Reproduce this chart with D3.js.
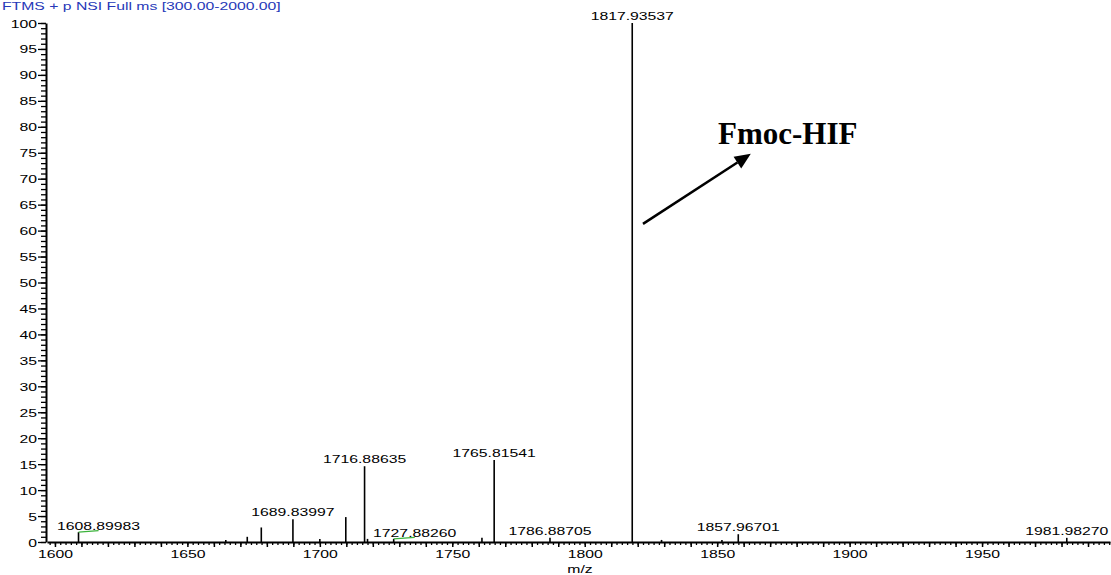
<!DOCTYPE html>
<html>
<head>
<meta charset="utf-8">
<script src="https://cdn.jsdelivr.net/npm/d3@7"></script>
<style>
  body { margin: 0; background: #fff; }
  svg { display: block; }
  text { font-family: "Liberation Sans", Arial, sans-serif; }
</style>
</head>
<body>
<svg width="1111" height="575"></svg>
<script>
// spectrum data (m/z, relative abundance)
var peakMz  = [1608.89983, 1664.5, 1672.6, 1677.9, 1689.83997, 1700.0, 1709.8, 1716.88635, 1718.0,
               1727.88260, 1761.2, 1765.81541, 1786.88705, 1817.93537, 1829.0, 1851.8, 1857.96701, 1981.98270];
var peakInt = [1.9, 0.4, 1.0, 2.8, 4.4, 0.6, 4.8, 14.6, 0.6,
               0.6, 0.8, 15.8, 0.8, 100, 0.4, 0.4, 1.5, 0.8];
var labelled = ["1608.89983", "1689.83997", "1716.88635", "1727.88260", "1765.81541",
                "1786.88705", "1817.93537", "1857.96701", "1981.98270"];
var yTicks = d3.range(0, 101, 5);
var xTicks = [1600, 1650, 1700, 1750, 1800, 1850, 1900, 1950];

var title = "FTMS + p NSI Full ms [300.00-2000.00]";
var annotation = "Fmoc-HIF";
// arrow in data coordinates [m/z, abundance]
var arrowFrom = [1822.0, 61.3], arrowTo = [1862.7, 74.8];
var annotationAt = [1850.3, 76.7];

// labels pushed sideways by the instrument software (px) -> drawn with a green leader
var labelShift = { "1608.89983": 20, "1727.88260": 21 };

var svg = d3.select("svg");
var FS = 11.5, SX = 1.37; // the original screenshot text is stretched horizontally

var x = d3.scaleLinear().domain([1597, 1998.3]).range([47, 1110]);
var y = d3.scaleLinear().domain([0, 100]).range([542, 23]);

function stretch(sel, px, py) {
    sel.attr("x", 0).attr("y", 0).attr("dy", null)
       .attr("transform", "translate(" + px + "," + py + ") scale(" + SX + ",1)");
}

// title
svg.append("text")
    .attr("font-size", FS)
    .attr("fill", "#2638b8")
    .attr("transform", "translate(2,10) scale(" + SX + ",1)")
    .text(title);

// y axis minor + major
svg.append("g")
    .attr("transform", "translate(46,0)")
    .call(d3.axisLeft(y).tickValues(d3.range(0, 101, 1)).tickSize(5).tickFormat(""))
    .call(function (g) { g.select(".domain").remove(); })
    .selectAll("line").attr("stroke-width", 1.3);

var yAxis = svg.append("g")
    .attr("transform", "translate(46,0)")
    .call(d3.axisLeft(y).tickValues(yTicks).tickSize(8).tickSizeOuter(0).tickFormat(d3.format("d")));
yAxis.select(".domain").attr("stroke-width", 2);
yAxis.selectAll("line").attr("stroke-width", 1.3);
yAxis.selectAll("text")
    .attr("font-size", FS)
    .attr("font-family", null)
    .attr("text-anchor", "end")
    .each(function () { stretch(d3.select(this), -9, 4); });

// x axis minor + major
svg.append("g")
    .attr("transform", "translate(0,542)")
    .call(d3.axisBottom(x).tickValues(d3.range(1598, 1999, 2)).tickSize(3).tickFormat(""))
    .call(function (g) { g.select(".domain").remove(); })
    .selectAll("line").attr("stroke-width", 1.3);

svg.append("g")
    .attr("transform", "translate(0,542)")
    .call(d3.axisBottom(x).tickValues(d3.range(1600, 1999, 10)).tickSize(5).tickFormat(""))
    .call(function (g) { g.select(".domain").remove(); })
    .selectAll("line").attr("stroke-width", 1.5);

var xAxis = svg.append("g")
    .attr("transform", "translate(0,542)")
    .call(d3.axisBottom(x).tickValues(xTicks).tickSize(0).tickSizeOuter(0).tickFormat(d3.format("d")));
xAxis.select(".domain").attr("stroke-width", 2);
xAxis.selectAll("text")
    .attr("font-size", FS)
    .attr("font-family", null)
    .attr("text-anchor", "middle")
    .each(function () { stretch(d3.select(this), 0, 16); });

svg.append("text")
    .attr("font-size", FS)
    .attr("text-anchor", "middle")
    .attr("transform", "translate(580,573) scale(" + SX + ",1)")
    .text("m/z");

// peaks
var peaks = peakMz.map(function (m, i) { return { mz: m, ab: peakInt[i] }; });

svg.append("g").selectAll("line")
    .data(peaks)
    .enter().append("line")
    .attr("x1", function (d) { return x(d.mz); })
    .attr("x2", function (d) { return x(d.mz); })
    .attr("y1", y(0))
    .attr("y2", function (d) { return y(d.ab); })
    .attr("stroke", "#000")
    .attr("stroke-width", 1.6);

// peak labels
var lab = peaks.filter(function (d) { return labelled.indexOf(d.mz.toFixed(5)) >= 0; });
var lg = svg.append("g");
lab.forEach(function (d) {
    var key = d.mz.toFixed(5);
    var shift = labelShift[key] || 0;
    var px = x(d.mz), py = y(d.ab);
    var ly = py - 3;
    if (shift) {
        ly = py - 2;
        lg.append("line")
            .attr("x1", px).attr("y1", py)
            .attr("x2", px + shift).attr("y2", py - 1.5)
            .attr("stroke", "#3cb33c").attr("stroke-width", 1.2);
    }
    lg.append("text")
        .attr("font-size", FS)
        .attr("text-anchor", "middle")
        .attr("transform", "translate(" + (px + shift) + "," + ly + ") scale(" + SX + ",1)")
        .text(key);
});

// annotation arrow
var ax0 = x(arrowFrom[0]), ay0 = y(arrowFrom[1]);
var ax1 = x(arrowTo[0]), ay1 = y(arrowTo[1]);
var ang = Math.atan2(ay1 - ay0, ax1 - ax0);
var headLen = 16, headW = 7;
var bx = ax1 - headLen * Math.cos(ang), by = ay1 - headLen * Math.sin(ang);
svg.append("line")
    .attr("x1", ax0).attr("y1", ay0)
    .attr("x2", bx).attr("y2", by)
    .attr("stroke", "#000").attr("stroke-width", 2.5);
svg.append("path")
    .attr("d", d3.line()([
        [ax1, ay1],
        [bx + headW * Math.sin(ang), by - headW * Math.cos(ang)],
        [bx - headW * Math.sin(ang), by + headW * Math.cos(ang)]
    ]) + "Z")
    .attr("fill", "#000");

svg.append("text")
    .attr("x", x(annotationAt[0]))
    .attr("y", y(annotationAt[1]))
    .style("font-family", "'Liberation Serif', 'Times New Roman', serif")
    .attr("font-weight", "bold")
    .attr("font-size", 31)
    .text(annotation);
</script>
</body>
</html>
